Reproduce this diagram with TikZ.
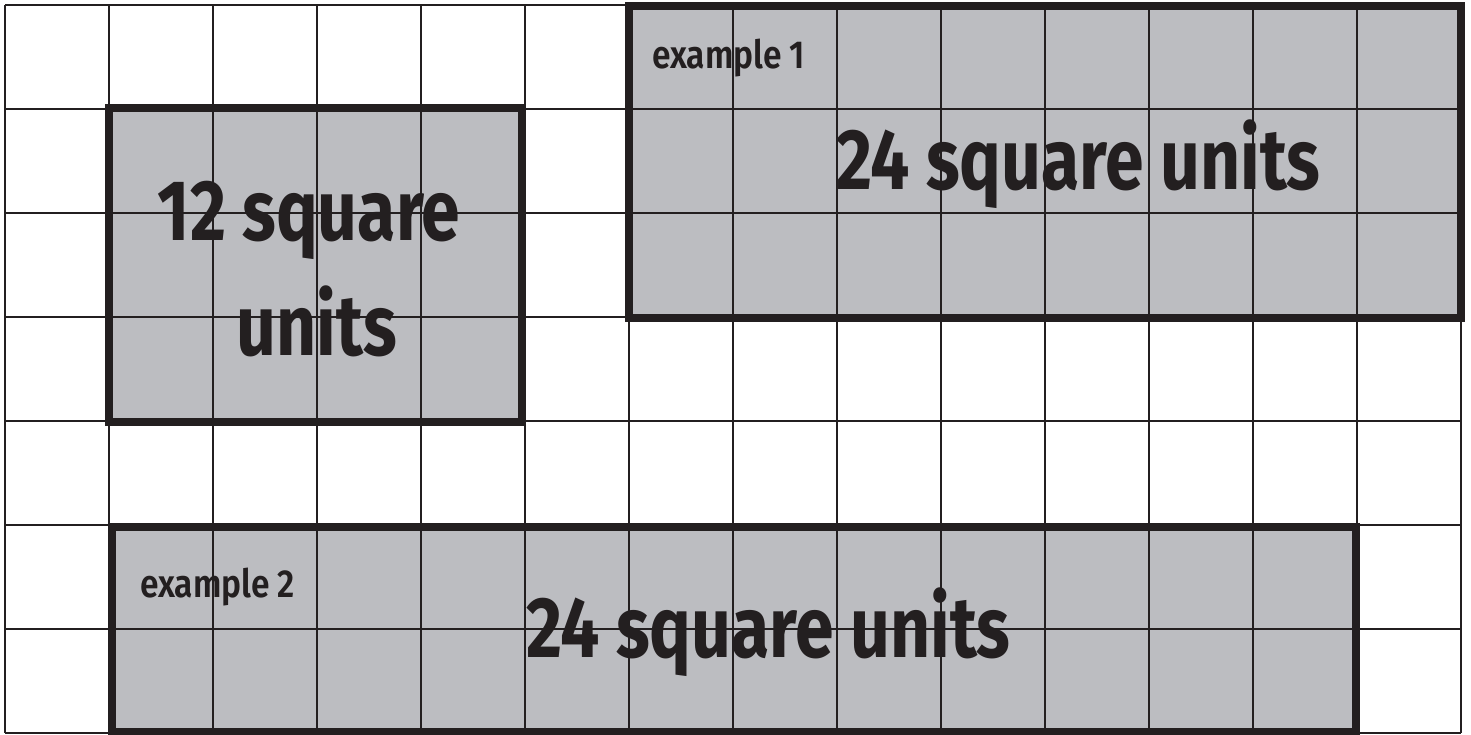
\documentclass[tikz,border=0pt]{standalone}
\usepackage{fontspec}
\setmainfont{Fira Sans}
\newfontfamily\bigfont[FakeStretch=0.81]{Fira Sans Bold}
\newfontfamily\labfont[FakeStretch=0.86]{Fira Sans SemiBold}
\definecolor{cellgray}{HTML}{BCBDC1}
\definecolor{ink}{HTML}{231F20}
\tikzset{
  area/.style={fill=cellgray},
  areaborder/.style={draw=ink, line width=7.5pt},
  gridline/.style={draw=ink, line width=1.6pt},
  bigtext/.style={text=ink, inner sep=0pt, font=\bigfont\fontsize{86}{100}\selectfont},
  labtext/.style={text=ink, inner sep=0pt, font=\labfont\fontsize{39}{45}\selectfont, anchor=base west},
}
\begin{document}
\begin{tikzpicture}[x=1pt,y=-1pt]
\useasboundingbox (0,0) rectangle (1471,734);
\fill[white] (0,0) rectangle (1471,734);
\clip (0,0) rectangle (1471,734);
% filled areas
\path[area] (109,109) rectangle (525,421);
\path[area] (629,5) rectangle (1461,317);
\path[area] (109,525) rectangle (1357,733);
% grid
\foreach \i in {0,...,14} {
  \draw[gridline] (5+104*\i,5) -- (5+104*\i,733);
}
\foreach \j in {0,...,7} {
  \draw[gridline] (5,5+104*\j) -- (1461,5+104*\j);
}
% borders
\draw[areaborder] (109,108) rectangle (522,422) node[coordinate] (a) {};
\draw[areaborder] (629,6) rectangle (1461,318) node[coordinate] (b) {};
\draw[areaborder] (112,527) rectangle (1356,732) node[coordinate] (c) {};
% texts
\node[bigtext, anchor=base] (t1) at (309,240) {12 square};
\node[bigtext, anchor=base] (t2) at (317,355) {units};
\node[bigtext, anchor=base west] (t3) at (836,189) {24 square units};
\node[bigtext, anchor=base west] (t4) at (526,657) {24 square units};
\node[labtext] (l1) at (652,68) {example 1};
\node[labtext] (l2) at (140,597) {example 2};
\end{tikzpicture}
\end{document}
